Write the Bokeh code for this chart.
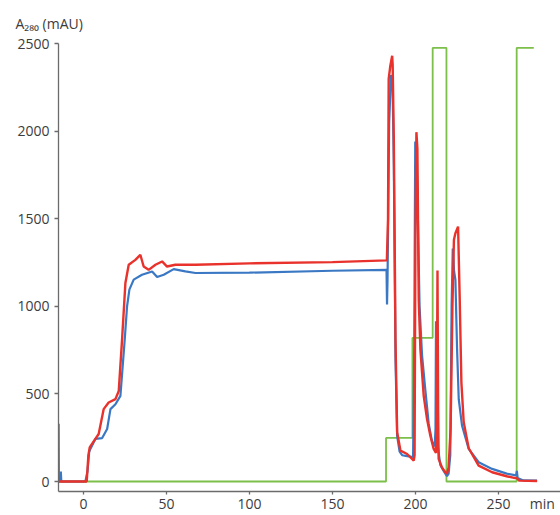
from bokeh.plotting import figure
from bokeh.models import Range1d, FixedTicker, Title
from bokeh.embed import file_html
from bokeh.resources import INLINE

# ---- data ----
blue_t = [-15, -14.0, -13.6, -13.3, 1.2, 2.5, 3.5, 4.2, 7.2, 11.3, 14.3, 16.3, 19.3,
          22.3, 24.9, 26.3, 27.7, 30.3, 35.3, 41.4, 44.4, 48.4, 54.4, 61.4, 67.5,
          100, 150, 182.6, 182.9, 183.2, 184.2, 185.3, 186.2, 187.0, 188.0, 189.0,
          190.5, 192.0, 195.0, 198.6, 199.3, 199.9, 200.6, 201.5, 202.5, 204.0,
          206.0, 208.0, 210.0, 211.6, 212.1, 212.4, 212.8, 213.5, 215.0, 217.0,
          219.0, 220.0, 221.0, 221.8, 222.5, 223.3, 224.1, 225.1, 226.1, 228.1,
          232.1, 238.1, 246.2, 255.0, 260.6, 261.1, 261.6, 265.0, 273.3]
blue_v = [0, 0, 57, 0, 0, 60, 170, 186, 243, 248, 300, 413, 441,
          489, 811, 1000, 1095, 1152, 1180, 1199, 1167, 1180, 1212, 1199, 1190,
          1192, 1203, 1208, 1010, 1150, 2050, 2320, 2280, 1800, 700, 260,
          170, 150, 145, 140, 800, 1940, 1900, 1500, 1000, 720,
          520, 330, 230, 200, 300, 915, 500, 200, 95, 60,
          30, 45, 150, 1000, 1330, 1200, 1150, 754, 470, 318,
          186, 110, 72, 45, 35, 60, 20, 6, 5]

red_t = [-15, -14.85, 2.0, 3.0, 3.8, 7.2, 9.2, 12.2, 15.2, 19.3, 21.3, 23.3, 25.3,
         27.3, 31.3, 34.3, 36.3, 39.3, 43.4, 47.4, 50.4, 55.4, 67.5, 100, 150,
         182.8, 183.5, 183.9, 184.9, 186.0, 186.3, 187.0, 188.0, 189.0, 191.0,
         195.0, 199.0, 199.5, 200.0, 200.6, 201.2, 202.0, 203.0, 205.0, 207.0,
         209.0, 211.0, 212.4, 212.9, 213.3, 213.7, 214.0, 216.0, 218.0, 219.0,
         220.0, 221.2, 222.3, 223.2, 224.1, 225.7, 226.7, 227.7, 229.1, 232.1,
         238.1, 246.2, 255.0, 260.2, 261.0, 262.5, 273.3]
red_v = [330, 0, 0, 150, 195, 243, 271, 413, 451, 470, 517, 811, 1133,
         1237, 1265, 1294, 1227, 1208, 1237, 1256, 1227, 1237, 1237, 1245, 1252,
         1262, 1500, 2298, 2373, 2430, 2380, 1947, 811, 281, 176,
         157, 119, 150, 1379, 1994, 1900, 1037, 754, 489, 356,
         261, 186, 163, 400, 1205, 400, 129, 80, 53, 45,
         80, 300, 1000, 1380, 1417, 1455, 1038, 565, 338, 190,
         91, 53, 30, 19, 20, 5, 3]

green_t = [-15, 182.3, 182.3, 198.2, 198.2, 210.4, 210.4, 218.7, 218.7, 261.0, 261.0, 271.3]
green_v = [0, 0, 249, 249, 820, 820, 2475, 2475, 0, 0, 2475, 2475]

x_ticks = [0, 50, 100, 150, 200, 250]
y_ticks = [0, 500, 1000, 1500, 2000, 2500]
x_unit = "min"
y_title = "A\u2082\u2088\u2080 (mAU)"

FONT = "Open Sans"
TXT = "#3c3c3c"

p = figure(width=560, height=515, output_backend="svg", toolbar_location=None,
           x_range=Range1d(-15, 287.4), y_range=Range1d(-57, 2500),
           min_border_left=58, min_border_right=0, min_border_top=43,
           min_border_bottom=22)
p.outline_line_color = None
p.grid.visible = False

for ax in (p.xaxis[0], p.yaxis[0]):
    ax.axis_line_color = "#6b6b6b"
    ax.axis_line_width = 1.3
    ax.major_tick_line_color = "#6b6b6b"
    ax.major_tick_line_width = 1.3
    ax.major_tick_in = 0
    ax.minor_tick_line_color = None
    ax.major_label_text_font = FONT
    ax.major_label_text_font_size = "14px"
    ax.major_label_text_color = TXT

p.yaxis.ticker = FixedTicker(ticks=y_ticks)
p.xaxis.ticker = FixedTicker(ticks=x_ticks)
p.xaxis.major_tick_out = 3
p.yaxis.major_tick_out = 4
p.xaxis.major_label_standoff = 4
p.yaxis.major_label_standoff = 5

# unit label at the right end of the x axis (anchored at the axis end,
# trailing no-break spaces keep the visible word inside the canvas)
xa = p.xaxis[0]
xa.axis_label = x_unit + "\u00a0" * 10
xa.axis_label_align = "end"
xa.axis_label_standoff = -18
xa.axis_label_text_font = FONT
xa.axis_label_text_font_size = "14px"
xa.axis_label_text_font_style = "normal"
xa.axis_label_text_color = TXT

p.line(green_t, green_v, line_color="#7cbf4a", line_width=1.8)
p.line(blue_t, blue_v, line_color="#3b78c4", line_width=2.2)
p.line(red_t, red_v, line_color="#e8322b", line_width=2.4)

p.add_layout(Title(text=y_title, align="left", offset=-43, standoff=22,
                   text_font=FONT, text_font_size="14px", text_font_style="normal",
                   text_color=TXT), "above")

open("out.html", "w").write(file_html(p, INLINE))
